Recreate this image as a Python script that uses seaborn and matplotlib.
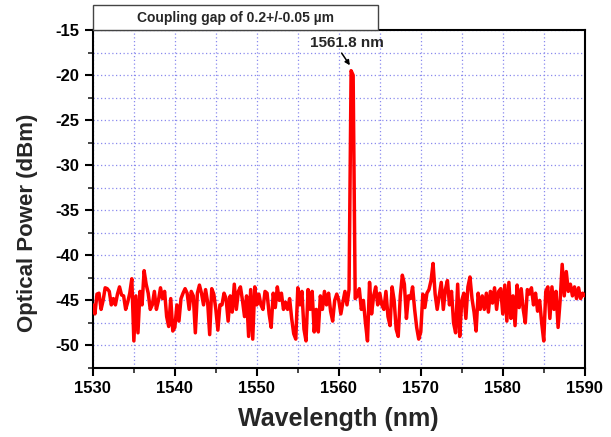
import numpy as np
import pandas as pd
import matplotlib
matplotlib.use("Agg")
import matplotlib.pyplot as plt
from matplotlib.patches import Rectangle
from matplotlib.ticker import MultipleLocator
import seaborn as sns

# ---- data (0.25 nm steps) ----
wl_start, wl_step = 1530.0, 0.25
power_1530 = [-45.5, -46.5, -44.3, -44.2, -46.0, -45.0, -43.6, -43.7, -44.0, -45.5,
              -44.8, -45.5, -44.3, -43.5, -44.4, -44.5, -46.0, -45.2, -44.2, -42.6,
              -49.5, -44.5, -48.6, -44.0, -45.5, -41.7, -43.2, -44.2, -46.0, -45.5,
              -44.0, -46.0, -45.0, -43.6, -44.8, -44.0, -46.8, -47.9, -44.8, -48.4]
power_1540 = [-48.0, -45.5, -47.3, -44.8, -44.2, -43.7, -44.2, -46.0, -44.0, -44.5,
              -48.6, -44.2, -43.3, -44.2, -45.5, -43.8, -45.2, -48.8, -43.7, -44.3,
              -46.0, -48.3, -45.5, -45.5, -44.2, -44.8, -47.3, -44.5, -46.3, -43.2,
              -46.0, -44.0, -43.5, -45.0, -46.8, -44.5, -49.0, -43.8, -49.3, -43.5]
power_1550 = [-45.5, -44.3, -45.5, -46.0, -44.0, -44.2, -46.5, -48.0, -44.2, -45.8,
              -43.5, -45.0, -44.2, -46.0, -45.2, -46.0, -44.8, -47.0, -48.7, -49.3,
              -43.6, -45.5, -44.0, -48.2, -49.5, -43.8, -46.0, -44.0, -48.5, -46.0,
              -48.5, -44.5, -46.0, -44.0, -45.5, -44.2, -46.2, -47.3, -45.0, -44.3]
power_1560 = [-45.0, -46.5, -45.2, -44.0, -45.5, -43.8, -19.5, -20.0, -44.8, -44.5,
              -43.7, -46.0, -45.0, -47.5, -49.5, -43.0, -46.5, -44.5, -43.5, -45.5,
              -44.2, -45.5, -46.0, -44.0, -46.8, -47.8, -43.5, -45.0, -48.2, -49.0,
              -44.5, -42.2, -43.2, -47.0, -44.5, -44.8, -43.5, -46.0, -48.0, -49.3]
power_1570 = [-48.5, -44.3, -45.8, -44.2, -43.8, -42.8, -40.9, -44.3, -46.0, -44.5,
              -43.0, -46.0, -43.8, -42.8, -45.5, -44.0, -47.5, -48.6, -43.2, -49.0,
              -45.0, -44.2, -47.0, -43.5, -42.4, -44.8, -46.3, -48.4, -44.2, -46.0,
              -44.5, -46.0, -44.2, -46.3, -44.0, -45.3, -43.6, -46.0, -44.0, -43.7]
power_1580 = [-46.5, -43.3, -47.3, -43.0, -47.0, -44.5, -47.8, -43.3, -45.8, -43.7,
              -46.0, -47.5, -43.8, -44.3, -43.6, -45.5, -44.2, -46.2, -45.0, -47.5,
              -49.5, -44.0, -43.5, -47.0, -43.5, -46.0, -44.0, -48.0, -45.0, -41.0,
              -44.5, -41.8, -44.0, -43.2, -44.5, -43.5, -44.8, -43.6, -44.8, -44.2,
              -44.5]

power = power_1530 + power_1540 + power_1550 + power_1560 + power_1570 + power_1580
wavelength = [wl_start + wl_step * i for i in range(len(power))]

x_ticks = [1530, 1540, 1550, 1560, 1570, 1580, 1590]
y_ticks = [-15, -20, -25, -30, -35, -40, -45, -50]
title_text = "Coupling gap of 0.2+/-0.05 \u00b5m"
peak_label = "1561.8 nm"

df = pd.DataFrame({"Wavelength": wavelength, "Power": power})

# ---- style ----
sns.set_style("white")
plt.rcParams["font.family"] = ["Liberation Sans", "DejaVu Sans"]
plt.rcParams["font.weight"] = "bold"
plt.rcParams["axes.unicode_minus"] = False

fig = plt.figure(figsize=(6.11, 4.37), dpi=100)
ax = fig.add_axes([0.152, 0.158, 0.805, 0.773])

sns.lineplot(data=df, x="Wavelength", y="Power", ax=ax, color="#ff0000",
             linewidth=2.5, zorder=3)

ax.set_xlim(1530, 1590)
ax.set_ylim(-52.5, -15)
ax.set_xticks(x_ticks)
ax.set_yticks(y_ticks)
ax.xaxis.set_minor_locator(MultipleLocator(5))
ax.yaxis.set_minor_locator(MultipleLocator(2.5))

ax.grid(True, which="both", color="#8a8aee", linestyle=(0, (1, 2)), linewidth=0.9)
ax.set_axisbelow(True)

for s in ax.spines.values():
    s.set_visible(True)
    s.set_color("black")
    s.set_linewidth(1.5)

ax.tick_params(axis="both", which="major", direction="out", length=6, width=1.5,
               labelsize=12, colors="black", bottom=True, left=True)
ax.tick_params(axis="both", which="minor", direction="out", length=3.5, width=1.2,
               bottom=True, left=True)
for lab in ax.get_xticklabels() + ax.get_yticklabels():
    lab.set_fontweight("bold")

ax.set_xlabel("Wavelength (nm)", fontsize=18, fontweight="bold", labelpad=8)
ax.set_ylabel("Optical Power (dBm)", fontsize=16, fontweight="bold")
ax.yaxis.set_label_coords(-0.112, 0.43)

# title box on top-left
rect = Rectangle((0, 1.0), 0.579, 0.074, transform=ax.transAxes, clip_on=False,
                 facecolor="white", edgecolor="#444444", linewidth=1.0, zorder=5)
ax.add_patch(rect)
ax.text(0.2895, 1.037, title_text, transform=ax.transAxes, ha="center", va="center",
        fontsize=10, fontweight="bold", zorder=6)

# peak annotation
ax.text(1560.95, -16.4, peak_label, ha="center", va="center", fontsize=11,
        fontweight="bold")
ax.annotate("", xy=(1561.35, -18.9), xytext=(1560.35, -17.55),
            arrowprops=dict(arrowstyle="-|>", color="black", lw=1.1,
                            mutation_scale=7, shrinkA=0, shrinkB=0))

fig.savefig("out.png", dpi=100)
